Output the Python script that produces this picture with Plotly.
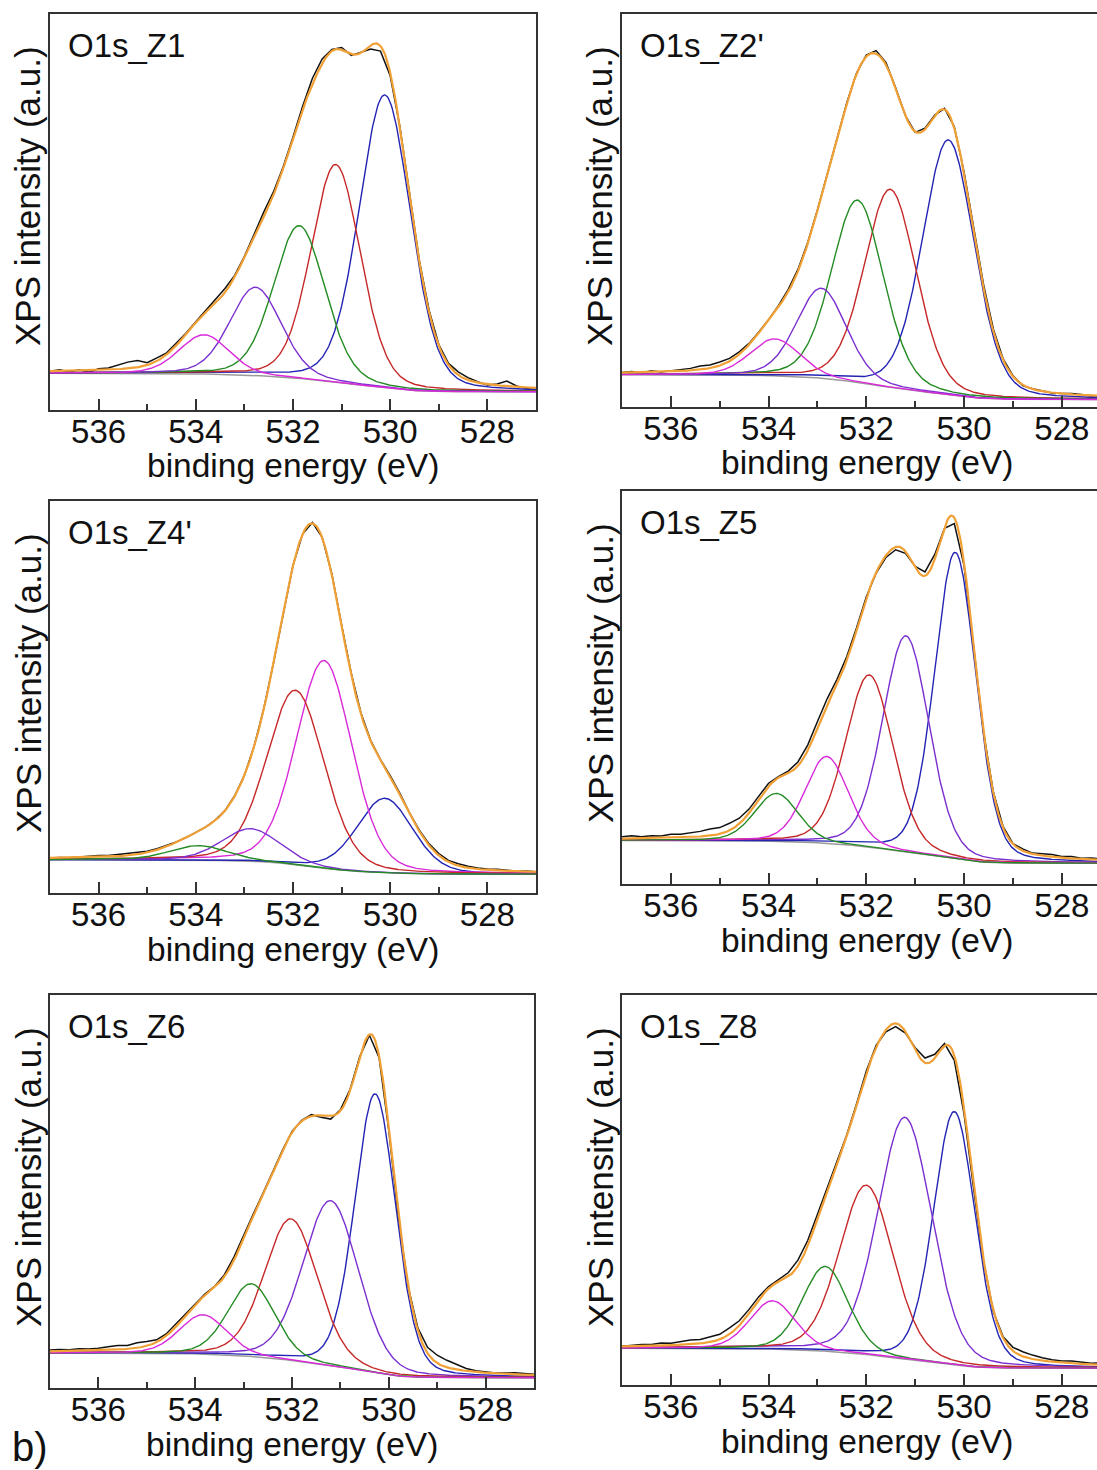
import numpy as np
import plotly.graph_objects as go

W, H = 1097, 1470

energy_ticks = [536, 534, 532, 530, 528]
energy_minor = [535, 533, 531, 529]
panel_names = ["O1s_Z1", "O1s_Z2'", "O1s_Z4'", "O1s_Z5", "O1s_Z6", "O1s_Z8"]

# fitted components:
# centre (eV), height above background (% of frame height), FWHM (eV)
centers_z1 = [530.11, 531.12, 531.87, 532.77, 533.83]
heights_z1 = [74.0, 55.0, 38.6, 22.3, 9.9]
fwhm_z1 = [1.25, 1.2, 1.25, 1.25, 1.2]
bg_z1 = [9.3, 4.6]  # background at high / low binding energy side

centers_z2 = [530.32, 531.51, 532.18, 532.92, 533.87]
heights_z2 = [64.9, 50.4, 46.4, 22.9, 9.4]
fwhm_z2 = [1.25, 1.25, 1.25, 1.2, 1.2]
bg_z2 = [8.2, 1.9]

centers_z4 = [530.11, 531.36, 531.95, 532.87, 533.94]
heights_z4 = [19.0, 53.0, 44.5, 8.3, 3.7]
fwhm_z4 = [1.35, 1.35, 1.4, 1.4, 1.4]
bg_z4 = [8.5, 4.8]

centers_z5 = [530.18, 531.19, 531.94, 532.81, 533.84]
heights_z5 = [78.0, 55.0, 43.8, 22.1, 12.2]
fwhm_z5 = [1.0, 1.12, 1.15, 1.05, 1.05]
bg_z5 = [11.1, 5.3]

centers_z6 = [530.28, 531.20, 532.02, 532.84, 533.84]
heights_z6 = [71.0, 42.0, 36.0, 18.5, 10.0]
fwhm_z6 = [1.0, 1.35, 1.3, 1.15, 1.15]
bg_z6 = [8.9, 2.6]

centers_z8 = [530.20, 531.21, 532.00, 532.84, 533.92]
heights_z8 = [65.0, 62.0, 43.4, 21.7, 12.4]
fwhm_z8 = [1.0, 1.3, 1.3, 1.1, 1.1]
bg_z8 = [9.4, 4.3]

# measured spectrum minus fit envelope, every 0.2 eV from 537 to 527 eV
resid_z1 = [0, 0.3, -0.3, 0.2, -0.5, 0.3, 0.4, 1.0, 1.6, 1.7, 0.6, 0.8, 0.4, 0.6, 0.3, 0.2, 0.5,
            0.8, 1.0, 0.4, 0.3, 0.6, 1.2, 0.8, 0.5, 0.3, 0.8, 1.5, 1.2, 0.4, 0.6, -0.3, 0.2, -0.9,
            -1.3, -0.8, 0.2, 0.4, 0.2, 0.5, 0.3, 0.4, 0.8, 0.6, 0.2, -0.2, 0.3, 1.3, 0.2, -0.3, -0.2]
resid_z2 = [0, 0.2, -0.2, 0.3, -0.1, 0.1, 0.2, 0.5, 0.9, 0.8, 0.9, 0.7, 0.6, 0.3, 0.2, 0.1, 0.3,
            0.6, 0.5, 0.3, 0.2, 0.1, 0.2, 0.3, 0.2, 0.4, 0.8, 0.6, 0.2, 0.0, -0.2, 0.3, 0.2, 0.3,
            0.4, 0.5, 0.8, 0.9, 0.6, 0.3, 0.2, -0.2, 0.1, 0.2, -0.1, 0.0, 0.2, 0.1, -0.1, 0.1, 0.0]
resid_z4 = [0, 0.1, 0.0, 0.2, 0.3, 0.4, 0.3, 0.4, 0.5, 0.4, 0.3, 0.3, 0.2, 0.1, 0.0, 0.1, 0.0,
            0.1, 0.0, 0.1, 0.0, 0.1, 0.2, 0.1, 0.0, 0.1, 0.0, 0.2, 0.1, 0.3, 0.2, 0.4, 0.3, 0.2,
            0.1, 0.3, 0.4, 0.2, 0.3, 0.4, 0.5, 0.4, 0.5, 0.4, 0.3, 0.2, 0.3, 0.1, 0.0, 0.1, 0.0]
resid_z5 = [0.5, 0.7, 0.4, 0.6, 0.5, 0.9, 0.8, 1.0, 1.3, 1.7, 1.6, 1.8, 1.4, 1.0, 0.7, 0.8, 0.3,
            0.5, 1.0, 1.4, 1.7, 1.6, 1.2, 1.0, 0.6, 0.3, -0.2, -0.5, -0.7, -0.5, 0.3, 1.0, 1.2,
            -0.3, -1.5, -0.8, -0.6, -0.3, 0.2, 0.3, 0.1, 0.5, 0.2, 0.4, 0.6, 0.3, 0.5, 0.2, 0.4, 0.3, 0.2]
resid_z6 = [0.3, 0.4, 0.3, 0.5, 0.4, 0.5, 0.8, 1.0, 0.9, 1.3, 1.1, 0.6, 0.5, 0.7, 0.4, 0.2, 0.4,
            0.3, 0.5, 0.8, 0.9, 0.5, 0.3, 0.2, 0.1, 0.3, 0.2, 0.4, -0.5, -0.8, 0.3, 0.4, 0.2, -0.2,
            -0.4, -1.0, -1.2, -0.4, 0.6, 1.5, 2.0, 1.8, 1.2, 0.6, 0.3, 0.2, 0.1, 0.2, 0.4, 0.3, 0.2]
resid_z8 = [0, 0.2, 0.4, 0.3, 0.6, 0.5, 0.9, 1.1, 1.0, 1.4, 1.3, 1.6, 1.2, 1.0, 0.8, 0.5, 0.6,
            1.0, 1.5, 1.4, 1.1, 0.8, 0.7, 0.4, 0.3, 0.6, 0.5, -0.5, -0.8, -0.4, 0.6, 1.2, 1.0, 0.6,
            -1.2, -1.5, -1.0, -0.6, -0.4, 0.3, 0.9, 1.2, 1.0, 0.7, 0.5, 0.4, 0.6, 0.5, 0.3, 0.5, 0.4]

# colours
BLUE, RED, GREEN, VIOLET, MAGENTA = "#2323b4", "#c62828", "#238b23", "#7b2fcf", "#d92ad9"
colors_z1 = [BLUE, RED, GREEN, VIOLET, MAGENTA]
colors_z2 = [BLUE, RED, GREEN, VIOLET, MAGENTA]
colors_z4 = [BLUE, MAGENTA, RED, VIOLET, GREEN]
colors_z5 = [BLUE, VIOLET, RED, MAGENTA, GREEN]
colors_z6 = [BLUE, VIOLET, RED, GREEN, MAGENTA]
colors_z8 = [BLUE, VIOLET, RED, GREEN, MAGENTA]

panels = [
    (centers_z1, heights_z1, fwhm_z1, bg_z1, resid_z1, colors_z1),
    (centers_z2, heights_z2, fwhm_z2, bg_z2, resid_z2, colors_z2),
    (centers_z4, heights_z4, fwhm_z4, bg_z4, resid_z4, colors_z4),
    (centers_z5, heights_z5, fwhm_z5, bg_z5, resid_z5, colors_z5),
    (centers_z6, heights_z6, fwhm_z6, bg_z6, resid_z6, colors_z6),
    (centers_z8, heights_z8, fwhm_z8, bg_z8, resid_z8, colors_z8),
]

# frame boxes in pixels: left, right, top, bottom, right end of the energy range
boxes = [
    (50, 536, 14, 410, 527.0),
    (622, 1097, 14, 407, 527.28),
    (50, 536, 501, 893, 527.0),
    (622, 1097, 491, 884, 527.28),
    (50, 534, 995, 1388, 527.0),
    (622, 1097, 995, 1385, 527.28),
]

FONT = "Liberation Sans, Arial, sans-serif"
INK = "#111111"


def pseudo_voigt(e, c, h, w, m=0.2):
    d = (e - c) / w
    return h * ((1 - m) * np.exp(-4 * np.log(2) * d ** 2) + m / (1 + 4 * d ** 2))


e_fine = np.round(np.linspace(537, 527, 501), 3)   # 0.02 eV
step = 10                                           # data every 0.2 eV

fig = go.Figure()
annotations = []

for i, ((cen, hgt, fw, bg, res, cols), (x0, x1, y0, y1, xend)) in enumerate(zip(panels, boxes)):
    n = "" if i == 0 else str(i + 1)
    xa, ya = "x" + n, "y" + n

    comps = [pseudo_voigt(e_fine, c, h, w) for c, h, w in zip(cen, hgt, fw)]
    total = np.sum(comps, axis=0)
    # Shirley type background: the step follows the integrated peak area
    asc = total[::-1]
    cum = np.concatenate([[0], np.cumsum((asc[1:] + asc[:-1]) / 2)])[::-1]
    cum = cum / cum.max()
    back = bg[1] + (bg[0] - bg[1]) * cum
    env = back + total

    e_data = e_fine[::step]
    meas = env[::step] + np.array(res)

    fig.add_trace(go.Scatter(x=e_data, y=meas, mode="lines", xaxis=xa, yaxis=ya,
                             line=dict(color=INK, width=1.5), showlegend=False))
    fig.add_trace(go.Scatter(x=e_fine, y=back, mode="lines", xaxis=xa, yaxis=ya,
                             line=dict(color="#9a9a9a", width=1.5), showlegend=False))
    for comp, col in zip(comps, cols):
        fig.add_trace(go.Scatter(x=e_fine, y=back + comp, mode="lines", xaxis=xa, yaxis=ya,
                                 line=dict(color=col, width=1.4), showlegend=False))
    fig.add_trace(go.Scatter(x=e_fine, y=env, mode="lines", xaxis=xa, yaxis=ya,
                             line=dict(color="#f0a035", width=2.2), showlegend=False))

    right_col = i % 2 == 1
    fig.update_layout(**{
        "xaxis" + n: dict(
            domain=[x0 / W, x1 / W], anchor=ya, range=[537, xend],
            tickvals=energy_ticks, ticks="inside", ticklen=11, tickwidth=1.5,
            tickcolor="#333333", ticklabelstandoff=-9,
            minor=dict(tickvals=energy_minor, ticks="inside", ticklen=6,
                       tickwidth=1.5, tickcolor="#333333"),
            showline=True, linecolor="#333333", linewidth=1.8, mirror=True,
            showgrid=False, zeroline=False,
            tickfont=dict(size=33, family=FONT, color=INK),
        ),
        "yaxis" + n: dict(
            domain=[1 - y1 / H, 1 - y0 / H], anchor=xa, range=[0, 100],
            showticklabels=False, ticks="", showgrid=False, zeroline=False,
            showline=True, linecolor="#333333", linewidth=1.8,
            mirror=not right_col,
        ),
    })

    xm = (x0 + (x1 if not right_col else 1111)) / 2
    annotations.append(dict(text=panel_names[i], x=(x0 + 16) / W, y=1 - (y0 + 31) / H,
                            xref="paper", yref="paper", xanchor="left", yanchor="middle",
                            showarrow=False, font=dict(size=33, family=FONT, color=INK)))
    annotations.append(dict(text="binding energy (eV)", x=xm / W, y=1 - (y1 + 56) / H,
                            xref="paper", yref="paper", xanchor="center", yanchor="middle",
                            showarrow=False, font=dict(size=33.5, family=FONT, color=INK)))
    annotations.append(dict(text="XPS intensity (a.u.)", x=(x0 - 22) / W, y=1 - (y0 + 182) / H,
                            xref="paper", yref="paper", xanchor="center", yanchor="middle",
                            textangle=-90, showarrow=False,
                            font=dict(size=35, family=FONT, color=INK)))

annotations.append(dict(text="b)", x=30 / W, y=1 - 1447 / H, xref="paper", yref="paper",
                        xanchor="center", yanchor="middle", showarrow=False,
                        font=dict(size=40, family=FONT, color=INK)))

fig.update_layout(
    width=W, height=H, margin=dict(l=0, r=0, t=0, b=0),
    paper_bgcolor="white", plot_bgcolor="white",
    annotations=annotations, showlegend=False,
)

fig.write_html("out.html", config={"displayModeBar": False},
               post_script="document.body.style.margin='0px';")
